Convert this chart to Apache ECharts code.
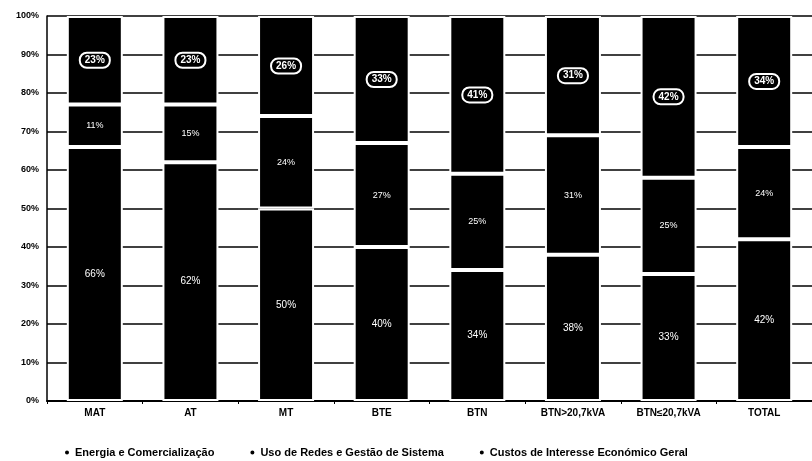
<!DOCTYPE html>
<html>
<head>
<meta charset="utf-8">
<script src="https://cdn.jsdelivr.net/npm/echarts@6/dist/echarts.min.js"></script>
<style>
html,body{margin:0;padding:0;background:#fff;}
#c{width:812px;height:461px;}
</style>
</head>
<body>
<div id="c"></div>
<script>
const categories = ['MAT', 'AT', 'MT', 'BTE', 'BTN', 'BTN>20,7kVA', 'BTN\u226420,7kVA', 'TOTAL'];
const seriesNames = ['Energia e Comercialização', 'Uso de Redes e Gestão de Sistema', 'Custos de Interesse Económico Geral'];
const energia = [66, 62, 50, 40, 34, 38, 33, 42];
const redes = [11, 15, 24, 27, 25, 31, 25, 24];
const cieg = [23, 23, 26, 33, 41, 31, 42, 34];
const yTicks = [0, 10, 20, 30, 40, 50, 60, 70, 80, 90, 100];

const chart = echarts.init(document.getElementById('c'), null, {renderer: 'canvas'});
const font = 'Liberation Sans, Arial, sans-serif';
const barStyle = {color: '#000', borderColor: '#fff', borderWidth: 2};
const plainLabel = {
  show: true, position: 'inside', color: '#fff', fontFamily: font,
  fontSize: 10, formatter: '{c}%'
};
chart.setOption({
  animation: false,
  backgroundColor: '#fff',
  grid: {left: 47, top: 16, width: 776, bottom: 60, containLabel: false},
  legend: {
    data: seriesNames,
    left: 58, top: 442,
    itemWidth: 6, itemHeight: 6, itemGap: 34, icon: 'circle',
    textStyle: {fontFamily: font, fontSize: 11, fontWeight: 'bold', color: '#000'}
  },
  xAxis: {
    type: 'category', data: categories,
    axisLine: {lineStyle: {color: '#000', width: 2}},
    axisTick: {show: true, alignWithLabel: false, length: 3, lineStyle: {color: '#000'}},
    axisLabel: {fontFamily: font, fontSize: 10, fontWeight: 'bold', color: '#000', margin: 7, interval: 0}
  },
  yAxis: {
    type: 'value', min: yTicks[0], max: yTicks[yTicks.length - 1], interval: 10,
    axisLine: {show: true, lineStyle: {color: '#000', width: 1.5}},
    axisTick: {show: false},
    splitLine: {show: true, lineStyle: {color: '#000', width: 1.6}},
    axisLabel: {formatter: '{value}%', fontFamily: font, fontSize: 9, fontWeight: 'bold', color: '#000', margin: 8}
  },
  series: [
    {
      name: seriesNames[0], type: 'bar', stack: 's', data: energia, barWidth: 56,
      itemStyle: barStyle,
      label: plainLabel
    },
    {
      name: seriesNames[1], type: 'bar', stack: 's', data: redes,
      itemStyle: barStyle,
      label: Object.assign({}, plainLabel, {fontSize: 9})
    },
    {
      name: seriesNames[2], type: 'bar', stack: 's', data: cieg,
      itemStyle: barStyle,
      label: {
        show: true, position: 'inside', color: '#fff', fontFamily: font, fontSize: 10,
        fontWeight: 'bold', formatter: '{c}%', borderColor: '#fff', borderWidth: 2,
        borderRadius: 7, padding: [3, 5, 2, 5]
      }
    }
  ]
});
</script>
</body>
</html>
